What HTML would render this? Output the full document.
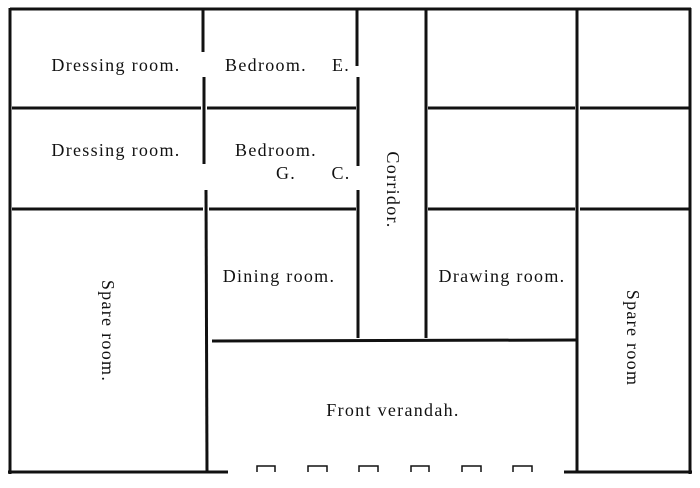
<!DOCTYPE html>
<html><head><style>
body{margin:0;background:#fff}
svg text{font-family:"Liberation Serif",serif;font-size:18px;letter-spacing:1.3px;fill:#111;text-anchor:middle}
</style></head><body>
<svg width="700" height="483" viewBox="0 0 700 483">
<g stroke="#111" stroke-width="3" fill="none">
<line x1="10" y1="9" x2="691" y2="9"/>
<line x1="10" y1="8" x2="10" y2="474"/>
<line x1="690" y1="8" x2="690" y2="474"/>
<line x1="8" y1="472" x2="228" y2="472"/>
<line x1="564" y1="472" x2="692" y2="472"/>
<line x1="203" y1="8" x2="203" y2="52"/>
<line x1="204" y1="77" x2="204" y2="164"/>
<line x1="206" y1="190" x2="207" y2="472"/>
<line x1="357" y1="10" x2="357" y2="66"/>
<line x1="358" y1="77" x2="358" y2="166"/>
<line x1="358" y1="190" x2="358" y2="338"/>
<line x1="426" y1="8" x2="426" y2="338"/>
<line x1="577" y1="8" x2="577" y2="472"/>
<line x1="12" y1="108" x2="201" y2="108"/>
<line x1="207" y1="108" x2="356" y2="108"/>
<line x1="428" y1="108" x2="575" y2="108"/>
<line x1="580" y1="108" x2="690" y2="108"/>
<line x1="12" y1="209" x2="203" y2="209"/>
<line x1="209" y1="209" x2="356" y2="209"/>
<line x1="428" y1="209" x2="575" y2="209"/>
<line x1="580" y1="209" x2="690" y2="209"/>
<line x1="212" y1="341" x2="577" y2="340"/>
</g>
<g stroke="#111" stroke-width="1.5" fill="none">
<path d="M257 472V466H275V472"/><path d="M308 472V466H327V472"/><path d="M359 472V466H378V472"/>
<path d="M411 472V466H429V472"/><path d="M462 472V466H481V472"/><path d="M513 472V466H532V472"/>
</g>
<text x="116" y="71">Dressing room.</text>
<text x="266" y="71">Bedroom.</text>
<text x="341" y="71">E.</text>
<text x="116" y="156">Dressing room.</text>
<text x="276" y="156">Bedroom.</text>
<text x="286" y="179">G.</text>
<text x="341" y="179">C.</text>
<text x="279" y="282">Dining room.</text>
<text x="502" y="282">Drawing room.</text>
<text x="393" y="416">Front verandah.</text>
<text transform="translate(387,190) rotate(90)">Corridor.</text>
<text transform="translate(102,331) rotate(90)">Spare room.</text>
<text transform="translate(627,338) rotate(90)">Spare room</text>
</svg>
</body></html>
